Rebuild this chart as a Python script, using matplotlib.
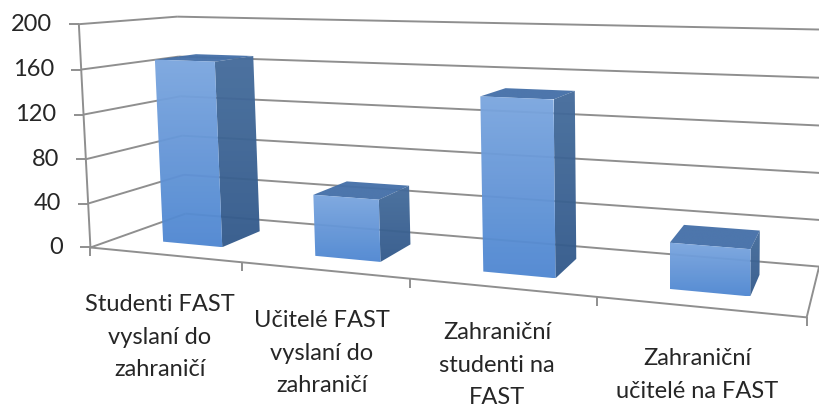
import numpy as np
import matplotlib
matplotlib.use('Agg')
import matplotlib.pyplot as plt
from matplotlib.colors import LinearSegmentedColormap
from matplotlib.patches import Polygon

# Data
categories = ['Studenti FAST\nvyslaní do\nzahraničí',
              'Učitelé FAST\nvyslaní do\nzahraničí',
              'Zahraniční\nstudenti na\nFAST',
              'Zahraniční\nučitelé na FAST']
values = [167, 54, 146, 37]
y_ticks = [0, 40, 80, 120, 160, 200]

# Where each label sits (pixels), the 3D chart has no common baseline for them
label_x = [160, 322, 497, 697]
label_y = [337, 353, 365, 375]

# Corners of the chart box: (category, value, depth) -> (pixel x, pixel y)
box_corners = [
    ((0, 200, 0), (78, 25)),
    ((0, 0, 0), (91, 247)),
    ((0, 200, 1), (178, 16)),
    ((0, 0, 1), (185, 214)),
    ((4, 200, 1), (822, 29.5)),
    ((4, 0, 1), (819, 267)),
    ((4, 0, 0), (807, 317)),
]

# Fit a camera matrix to the corners so perspective works like in the Excel chart
rows = []
rhs = []
for (cx, cy, cz), (px, py) in box_corners:
    rows.append([cx, cy, cz, 1, 0, 0, 0, 0, -px * cx, -px * cy, -px * cz])
    rows.append([0, 0, 0, 0, cx, cy, cz, 1, -py * cx, -py * cy, -py * cz])
    rhs += [px, py]
cam = np.linalg.lstsq(np.array(rows, float), np.array(rhs, float), rcond=None)[0]
cam = np.append(cam, 1).reshape(3, 4)


def project(x, y, z):
    p = cam @ np.array([x, y, z, 1.0])
    return p[0] / p[2], p[1] / p[2]


plt.rcParams['font.family'] = ['Lato', 'DejaVu Sans']
fig = plt.figure(figsize=(8.2, 4.09), dpi=100)
ax = fig.add_axes([0, 0, 1, 1])
ax.axis('off')

grid_col = '#8f8f8f'
text_col = '#262626'


def seg(a, b, **kw):
    ax.plot([a[0], b[0]], [a[1], b[1]], color=grid_col, lw=1.4,
            solid_capstyle='butt', zorder=kw.pop('zorder', 1), **kw)


# walls
for v in y_ticks:
    seg(project(0, v, 0), project(0, v, 1))
    seg(project(0, v, 1), project(4, v, 1))
    front = project(0, v, 0)
    seg((front[0] - 10, front[1]), front)
    ax.text(front[0] - 27, front[1], str(v), ha='right', va='center',
            fontsize=17, color=text_col)

# floor and axes
seg(project(0, 0, 0), project(0, 200, 0))
seg(project(0, 0, 0), project(4, 0, 0))
seg(project(4, 0, 0), project(4, 0, 1))
for i in range(5):
    tick = project(i, 0, 0)
    seg(tick, (tick[0], tick[1] + 9))

front_cmap = LinearSegmentedColormap.from_list('front', ['#7BA6DF', '#4F87D1'])
side_cmap = LinearSegmentedColormap.from_list('side', ['#456C9C', '#335A8B'])
top_cmap = LinearSegmentedColormap.from_list('top', ['#4570A8', '#4570A8'])
grad = np.linspace(0, 1, 64).reshape(-1, 1)


def face(pts, cmap):
    pts = np.array(pts)
    clip = Polygon(pts, closed=True, transform=ax.transData, fc='none', ec='none')
    ax.add_patch(clip)
    im = ax.imshow(grad, cmap=cmap, aspect='auto', alpha=0.96, zorder=3,
                   extent=[pts[:, 0].min(), pts[:, 0].max(),
                           pts[:, 1].max(), pts[:, 1].min()])
    im.set_clip_path(clip)


bar_w = 0.40
z0, z1 = 0.27, 0.71
for i, val in enumerate(values):
    x0 = i + 0.512 - bar_w / 2
    x1 = i + 0.512 + bar_w / 2
    face([project(x0, val, z1), project(x1, val, z1),
          project(x1, val, z0), project(x0, val, z0)], top_cmap)
    face([project(x1, val, z0), project(x1, val, z1),
          project(x1, 0, z1), project(x1, 0, z0)], side_cmap)
    face([project(x0, val, z0), project(x1, val, z0),
          project(x1, 0, z0), project(x0, 0, z0)], front_cmap)

for lab, lx, ly in zip(categories, label_x, label_y):
    ax.text(lx, ly, lab, ha='center', va='center', fontsize=17,
            color=text_col, linespacing=1.7)

ax.set_xlim(0, 820)
ax.set_ylim(409, 0)
fig.savefig('out.png', dpi=100)
